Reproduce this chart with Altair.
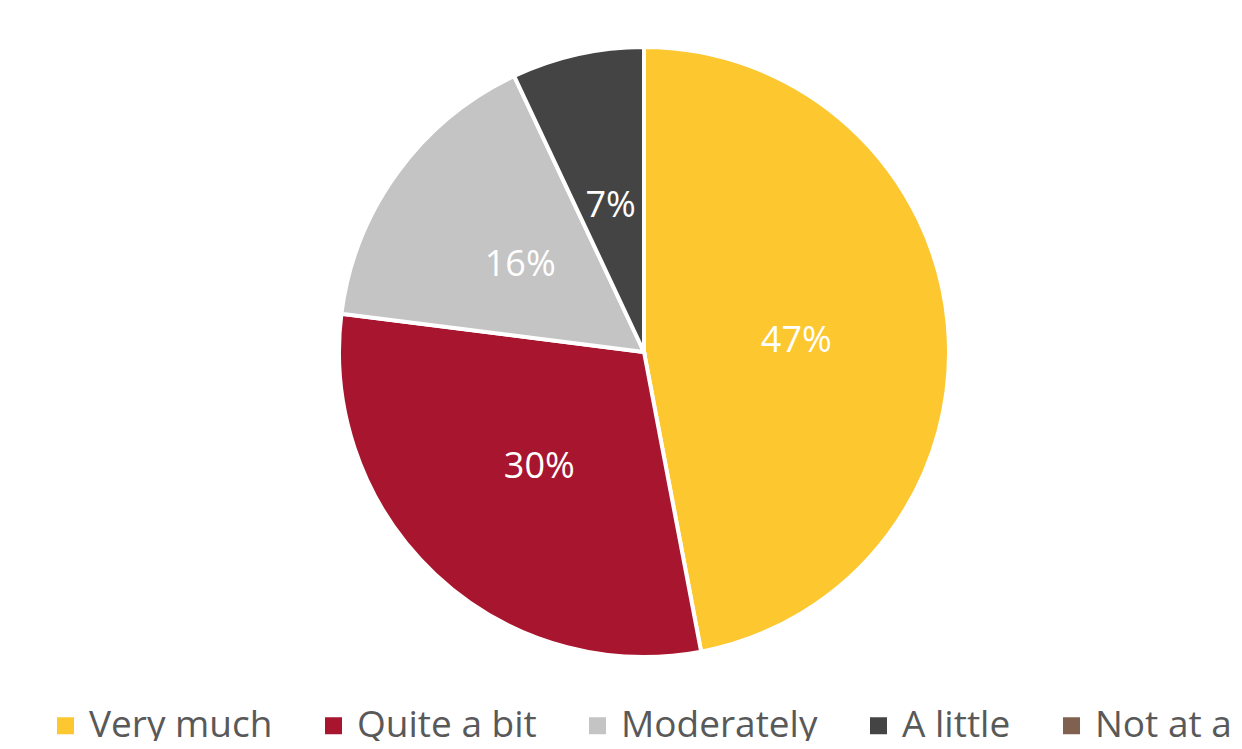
import altair as alt
import pandas as pd

categories = ["Very much", "Quite a bit", "Moderately", "A little", "Not at all"]
values = [47, 30, 16, 7, 0]
labels = ["47%", "30%", "16%", "7%", "0%"]
colors = ["#FCC72F", "#A8152E", "#C4C4C4", "#444444", "#80614F"]

df = pd.DataFrame({
    "category": categories,
    "value": values,
    "label": labels,
    "order": list(range(len(categories))),
})

CX, CY = 636, 344

base = alt.Chart(df).encode(
    theta=alt.Theta("value:Q", stack=True),
    order=alt.Order("order:Q"),
)

arcs = base.mark_arc(outerRadius=305, stroke="white", strokeWidth=4).encode(
    x=alt.value(CX),
    y=alt.value(CY),
    color=alt.Color(
        "category:N",
        scale=alt.Scale(domain=categories, range=colors),
        sort=categories,
        legend=alt.Legend(
            title=None,
            orient="none",
            legendX=39,
            legendY=699,
            direction="horizontal",
            columns=5,
            symbolType="square",
            symbolSize=289,
            symbolStrokeWidth=0,
            symbolOpacity=1,
            labelFontSize=37,
            labelFont="Open Sans",
            labelColor="#595959",
            labelOffset=5,
            labelLimit=600,
            columnPadding=42,
        ),
    ),
)

texts = base.mark_text(
    radius=153, fontSize=36, font="Open Sans", fill="white",
    baseline="middle", align="center", dy=3,
).encode(
    x=alt.value(CX),
    y=alt.value(CY),
    text="label:N",
).transform_filter("datum.value > 0")

chart = (
    alt.layer(arcs, texts)
    .properties(width=1226, height=733, autosize=alt.AutoSizeParams(type="none"),
                padding=0, background="white")
    .configure_view(stroke=None)
)

chart.save("out.html", embed_options={"renderer": "svg", "actions": False})
